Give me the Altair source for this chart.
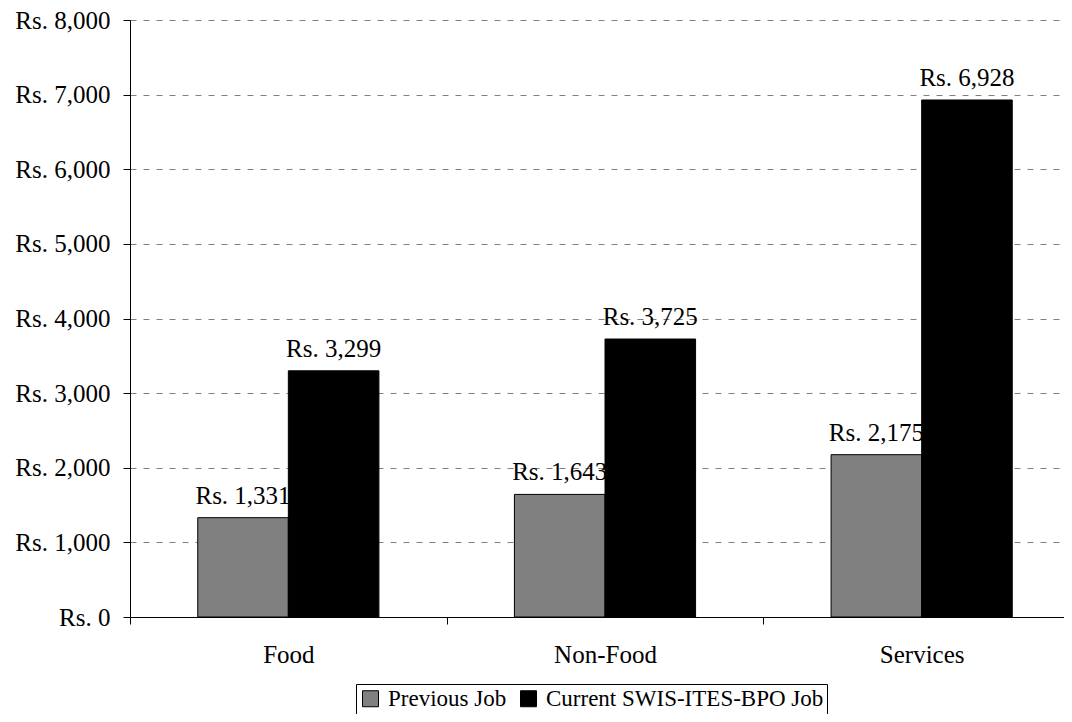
import altair as alt
import pandas as pd

categories = ["Food", "Non-Food", "Services"]
series = ["Previous Job", "Current SWIS-ITES-BPO Job"]
previous_job = [1331, 1643, 2175]
current_job = [3299, 3725, 6928]
y_ticks = [0, 1000, 2000, 3000, 4000, 5000, 6000, 7000, 8000]
colors = ["#808080", "#000000"]

rows = []
for c, p, q in zip(categories, previous_job, current_job):
    rows.append({"category": c, "series": series[0], "value": p})
    rows.append({"category": c, "series": series[1], "value": q})
df = pd.DataFrame(rows)
df["label"] = df["value"].map(lambda v: f"Rs. {v:,}")

FONT = "Liberation Serif"

x = alt.X(
    "category:N",
    sort=categories,
    title=None,
    scale=alt.Scale(paddingInner=0, paddingOuter=0, range=[0, 950]),
    axis=alt.Axis(
        tickBand="extent",
        labelAngle=0,
        labelFontSize=25,
        labelFont=FONT,
        labelColor="black",
        labelPadding=18,
        tickSize=7,
        tickColor="black",
        domainColor="black",
        grid=False,
    ),
)
xo = alt.XOffset(
    "series:N", sort=series, scale=alt.Scale(paddingOuter=0.748, paddingInner=0)
)
y = alt.Y(
    "value:Q",
    title=None,
    scale=alt.Scale(domain=[0, 8000], nice=False),
    axis=alt.Axis(
        values=y_ticks,
        labelExpr="'Rs. ' + format(datum.value, ',')",
        labelFontSize=25,
        labelFont=FONT,
        labelColor="black",
        labelPadding=13,
        tickSize=7,
        tickColor="black",
        domainColor="black",
        gridColor="#808080",
        gridDash=[6, 7],
        gridWidth=1,
    ),
)

bars = alt.Chart(df).mark_bar(stroke="black", strokeWidth=1).encode(
    x=x,
    xOffset=xo,
    y=y,
    color=alt.Color(
        "series:N",
        sort=series,
        scale=alt.Scale(domain=series, range=colors),
        legend=alt.Legend(
            orient="none",
            legendX=226,
            legendY=664,
            direction="horizontal",
            title=None,
            symbolType="square",
            symbolSize=256,
            symbolStrokeColor="black",
            symbolStrokeWidth=1,
            labelFontSize=23,
            labelFont=FONT,
            labelColor="black",
            strokeColor="black",
            fillColor="white",
            padding=3,
            columnPadding=10,
            labelOffset=6,
            labelLimit=0,
        ),
    ),
)

labels = alt.Chart(df).mark_text(
    baseline="alphabetic", dy=-14, fontSize=25, font=FONT, color="black"
).encode(x=x, xOffset=xo, y=y, text="label:N")

chart = (
    alt.layer(bars, labels)
    .properties(
        width=934,
        height=597,
        autosize=alt.AutoSizeParams(type="none"),
        padding={"left": 122, "top": 12, "right": 0, "bottom": 97},
        background="white",
    )
    .configure_view(stroke=None)
)

chart.save("out.html", embed_options={"renderer": "svg", "actions": False})
